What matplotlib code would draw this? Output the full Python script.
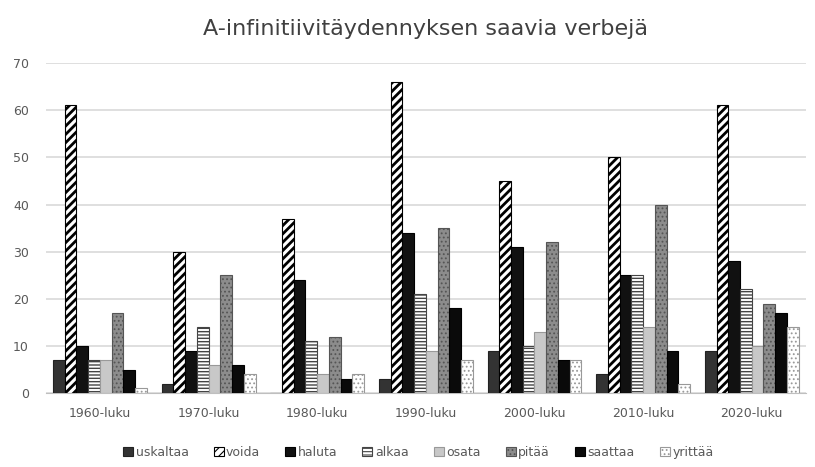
import matplotlib.pyplot as plt
import numpy as np

# Aineisto: vuosikymmenet ja verbien esiintymät
vuosikymmenet = ["1960-luku", "1970-luku", "1980-luku", "1990-luku",
                 "2000-luku", "2010-luku", "2020-luku"]
verbit = ["uskaltaa", "voida", "haluta", "alkaa", "osata", "pitää", "saattaa", "yrittää"]

uskaltaa = [7, 2, 0, 3, 9, 4, 9]
voida = [61, 30, 37, 66, 45, 50, 61]
haluta = [10, 9, 24, 34, 31, 25, 28]
alkaa = [7, 14, 11, 21, 10, 25, 22]
osata = [7, 6, 4, 9, 13, 14, 10]
pitaa = [17, 25, 12, 35, 32, 40, 19]
saattaa = [5, 6, 3, 18, 7, 9, 17]
yrittaa = [1, 4, 4, 7, 7, 2, 14]

sarjat = [uskaltaa, voida, haluta, alkaa, osata, pitaa, saattaa, yrittaa]

# tyylit: (täyttö, reuna/kuvio, kuvio, kuvion viivan paksuus)
tyylit = [
    ("#333333", "#222222", None, 1.0),
    ("white", "black", "////", 2.0),
    ("#111111", "black", None, 1.0),
    ("white", "#444444", "-----", 1.0),
    ("#c8c8c8", "#999999", None, 1.0),
    ("#8c8c8c", "#555555", "....", 0.8),
    ("#0a0a0a", "black", None, 1.0),
    ("white", "#999999", "....", 0.8),
]

fig, ax = plt.subplots(figsize=(8.15, 4.67), dpi=100)
fig.subplots_adjust(left=0.056, right=0.989, bottom=0.158, top=0.865)

x = np.arange(len(vuosikymmenet))
leveys = 0.108
for i, (nimi, arvot) in enumerate(zip(verbit, sarjat)):
    fc, ec, hatch, hlw = tyylit[i]
    plt.rcParams["hatch.linewidth"] = hlw
    palkit = ax.bar(x + (i - 3.5) * leveys, arvot, leveys, color=fc,
                    edgecolor=ec, hatch=hatch, linewidth=0.8, label=nimi, zorder=3)
    for p in palkit:
        if hasattr(p, "set_hatch_linewidth"):
            p.set_hatch_linewidth(hlw)

ax.set_ylim(0, 70)
ax.set_xlim(-0.5, len(vuosikymmenet) - 0.5)
ax.set_yticks(range(0, 71, 10))
ax.set_xticks(x)
ax.set_xticklabels(vuosikymmenet)
ax.yaxis.grid(True, color="#d9d9d9", linewidth=1.2, zorder=0)
ax.tick_params(length=0, labelsize=9, colors="#595959")
ax.tick_params(axis="y", pad=12)
ax.tick_params(axis="x", pad=10)
for s in ["top", "right", "left"]:
    ax.spines[s].set_visible(False)
ax.spines["bottom"].set_color("#bfbfbf")

ax.set_title("A-infinitiivitäydennyksen saavia verbejä", fontsize=16,
             color="#404040", pad=20)

ax.legend(loc="upper center", bbox_to_anchor=(0.49, -0.125), ncol=8, frameon=False,
          fontsize=9, handlelength=0.8, handleheight=0.8, handletextpad=0.2,
          columnspacing=2.0, labelcolor="#595959")

plt.savefig("out.png", dpi=100)
